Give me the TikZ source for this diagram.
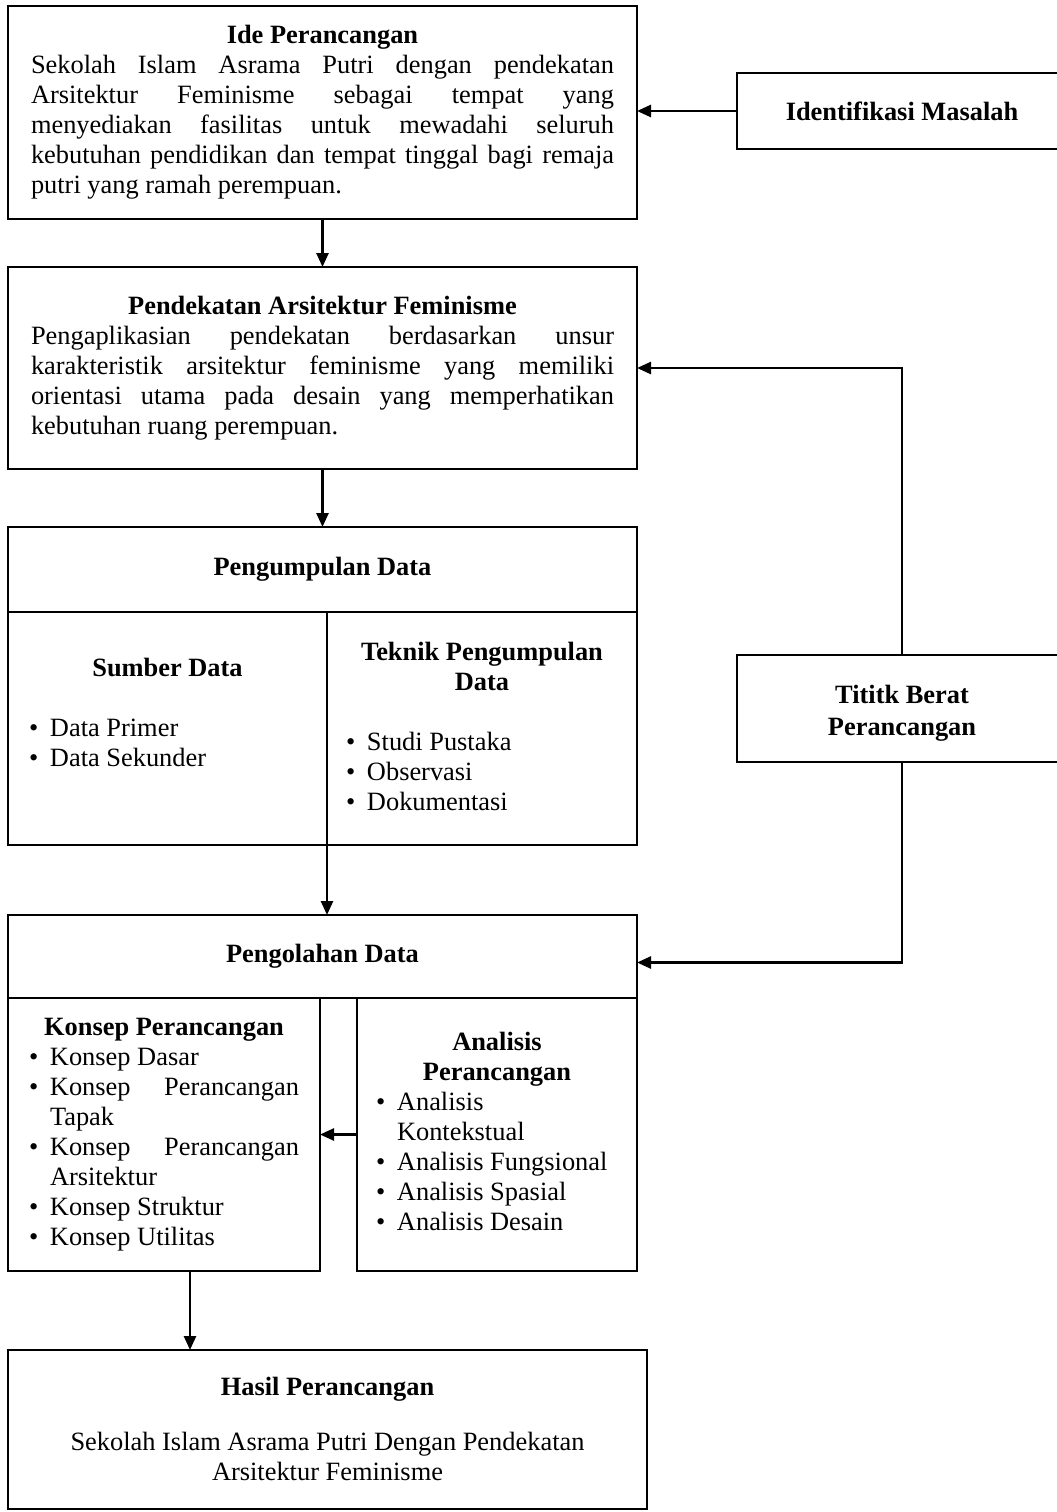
\documentclass[tikz,border=0pt]{standalone}
\usepackage{fontspec}
\setmainfont{Liberation Serif}
\usetikzlibrary{arrows.meta}
\newcommand{\jl}[2]{\makebox[#1][s]{\spaceskip=\fontdimen2\font plus 1fil\relax #2}}
\newcommand{\bul}{\makebox[21pt][l]{•}}
\newcommand{\ind}{\hspace*{21pt}}
\begin{document}
\begin{tikzpicture}[x=1pt,y=-1pt,
  box/.style={draw, line width=2.5pt, inner sep=0pt, outer sep=0pt, anchor=north west,
    font=\fontsize{26.4}{30}\selectfont, execute at begin node={\spaceskip=0pt\xspaceskip=0pt\relax}},
  txt/.style={inner sep=0pt, font=\fontsize{26.4}{30}\selectfont, execute at begin node={\spaceskip=0pt\xspaceskip=0pt\relax}},
  arr/.style={line width=2.5pt, -{Triangle[length=14pt,width=12pt]}}]
\useasboundingbox (0,0) rectangle (1057,1512);

% Ide Perancangan
\node[box, minimum width=629pt, minimum height=213pt, text width=583pt, align=center] (ide) at (8,6)
{\makebox[583pt][c]{\bfseries\strut Ide Perancangan}\\
\jl{583pt}{Sekolah Islam Asrama Putri dengan pendekatan}\\
\jl{583pt}{Arsitektur Feminisme sebagai tempat yang}\\
\jl{583pt}{menyediakan fasilitas untuk mewadahi seluruh}\\
\jl{583pt}{kebutuhan pendidikan dan tempat tinggal bagi remaja}\\
\makebox[583pt][l]{putri yang ramah perempuan.\strut}};

% Identifikasi Masalah
\node[box, minimum width=330pt, minimum height=76pt, font=\fontsize{26.4}{30}\selectfont\bfseries] (ident) at (737,73) {Identifikasi Masalah};

% Pendekatan
\node[box, minimum width=629pt, minimum height=202pt, text width=583pt, align=center] (pend) at (8,267)
{\makebox[583pt][c]{\bfseries\strut Pendekatan Arsitektur Feminisme}\\
\jl{583pt}{Pengaplikasian pendekatan berdasarkan unsur}\\
\jl{583pt}{karakteristik arsitektur feminisme yang memiliki}\\
\jl{583pt}{orientasi utama pada desain yang memperhatikan}\\
\makebox[583pt][l]{kebutuhan ruang perempuan.\strut}};

% Pengumpulan Data
\node[box, minimum width=629pt, minimum height=85pt, font=\fontsize{26.4}{30}\selectfont\bfseries] (pengH) at (8,527) {Pengumpulan Data};
\node[box, minimum width=319pt, minimum height=233pt] (sumber) at (8,612) {};
\node[box, minimum width=310pt, minimum height=233pt] (teknik) at (327,612) {};
\node[txt, anchor=north, text width=277pt, align=left] (sumbertxt) at ([yshift=-43pt]sumber.north)
{\makebox[277pt][c]{\bfseries\strut Sumber Data}\\[30pt]
\bul Data Primer\\
\bul Data Sekunder\strut};
\node[txt, anchor=north, text width=272pt, align=left] (tekniktxt) at ([yshift=-27pt]teknik.north)
{\makebox[272pt][c]{\bfseries\strut Teknik Pengumpulan}\\
\makebox[272pt][c]{\bfseries Data}\\[30pt]
\bul Studi Pustaka\\
\bul Observasi\\
\bul Dokumentasi\strut};

% Titik Berat Perancangan
\node[box, minimum width=330pt, minimum height=107pt, align=center, font=\fontsize{26.4}{30}\selectfont\bfseries] (titik) at (737,655) {\rule{0pt}{31pt}Tititk Berat\\[2pt]Perancangan\strut};

% Pengolahan Data
\node[box, minimum width=629pt, minimum height=83pt, font=\fontsize{26.4}{30}\selectfont\bfseries] (olahH) at (8,915) {Pengolahan Data};
\node[box, minimum width=312pt, minimum height=273pt, text width=270pt, align=left] (konsep) at (8,998)
{\makebox[270pt][c]{\bfseries\strut Konsep Perancangan}\\
\bul Konsep Dasar\\
\bul\jl{249pt}{Konsep Perancangan}\\
\ind Tapak\\
\bul\jl{249pt}{Konsep Perancangan}\\
\ind Arsitektur\\
\bul Konsep Struktur\\
\bul Konsep Utilitas\strut};
\node[box, minimum width=280pt, minimum height=273pt, text width=242pt, align=left] (analisis) at (357,998)
{\makebox[242pt][c]{\bfseries\strut Analisis}\\
\makebox[242pt][c]{\bfseries Perancangan}\\
\bul Analisis\\
\ind Kontekstual\\
\bul Analisis Fungsional\\
\bul Analisis Spasial\\
\bul Analisis Desain\strut};

% Hasil Perancangan
\node[box, minimum width=639pt, minimum height=159pt] (hasil) at (8,1350) {};
\node[txt, anchor=north, align=center] (hasiltxt) at ([yshift=-24pt]hasil.north)
{{\bfseries\strut Hasil Perancangan}\\[25pt]
Sekolah Islam Asrama Putri Dengan Pendekatan\\
Arsitektur Feminisme\strut};

% connectors
\draw[arr] (ident.west) -- (ident.west -| ide.east);
\draw[arr] (ide.south) -- (pend.north);
\draw[arr] (pend.south) -- (pengH.north);
\draw[arr] (titik.north) |- (pend.east);
\draw[arr] (titik.south) |- ([yshift=-6pt]olahH.east);
\draw[arr] (sumber.south east) -- (sumber.south east |- olahH.north);
\draw[arr] (analisis.west) -- (konsep.east |- analisis.west);
\coordinate (kout) at ([xshift=26pt]konsep.south);
\draw[arr] (kout) -- (kout |- hasil.north);
\end{tikzpicture}
\end{document}
